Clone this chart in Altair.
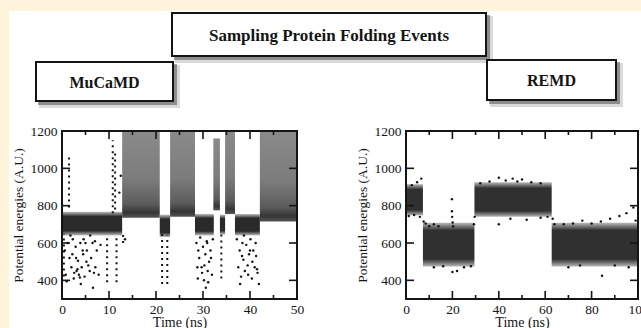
import altair as alt
import pandas as pd

# ---------------- text ----------------
HEADER = "Sampling  Protein Folding Events"
LEFT_NAME = "MuCaMD"
RIGHT_NAME = "REMD"
X_TITLE = "Time (ns)"
Y_TITLE = "Potential energies (A.U.)"

# ---------------- axes ----------------
energy_domain = [300, 1200]
energy_labels = [400, 600, 800, 1000, 1200]
energy_ticks = [400, 600, 800, 1000]

left_domain = [0, 50]
left_major = [0, 10, 20, 30, 40, 50]
left_minor = [5, 15, 25, 35, 45]
right_domain = [0, 100]
right_major = [0, 20, 40, 60, 80, 100]
right_minor = [10, 30, 50, 70, 90]

# ---------------- MuCaMD (left) ----------------
mu_basin_start = [0.0, 20.8, 28.3, 33.6, 36.8]
mu_basin_end = [12.8, 23.0, 32.3, 34.7, 42.1]
mu_basin_low = [640, 632, 640, 645, 640]
mu_basin_high = [768, 752, 756, 752, 756]

mu_high_start = [12.8, 23.0, 32.2, 34.7, 42.1]
mu_high_end = [20.8, 28.3, 33.6, 36.8, 50.0]
mu_high_low = [735, 740, 775, 755, 715]
mu_high_top = [1200, 1200, 1160, 1200, 1200]

mu_streak_t = [0.4, 1.5, 9.6, 10.8, 11.3, 11.6, 13.0, 21.3, 22.4, 33.9]
mu_streak_low = [420, 790, 390, 760, 780, 390, 600, 380, 380, 410]
mu_streak_high = [650, 1080, 640, 1150, 1100, 640, 660, 650, 640, 650]

mu_dot_t = [0.6, 0.8, 1.2, 1.6, 2.0, 2.3, 2.6, 2.9, 3.1, 3.4, 3.6, 3.9, 4.2, 4.5,
            4.8, 5.0, 5.3, 5.6, 5.9, 6.2, 6.5, 6.8, 7.1, 7.4, 7.8, 8.2, 1.0, 1.8,
            2.5, 3.3, 4.0, 4.6, 5.2, 6.0, 6.6, 7.0, 3.0, 3.8, 4.4, 2.2,
            28.6, 28.9, 29.2, 29.4, 29.7, 30.0, 30.2, 30.5, 30.8, 31.0, 31.3,
            31.6, 31.9, 32.1, 29.0, 30.3, 31.1, 29.8, 30.9, 31.7, 28.8, 30.6,
            37.2, 37.5, 37.8, 38.1, 38.4, 38.6, 38.9, 39.2, 39.5, 39.8, 40.1,
            40.4, 40.7, 41.0, 41.3, 41.6, 41.9, 37.9, 38.7, 39.6, 40.5, 41.2,
            38.3, 41.5, 40.0, 12.2, 12.5, 13.4]
mu_dot_e = [560, 430, 600, 520, 470, 620, 440, 580, 450, 505, 430, 600, 470, 540,
            420, 600, 560, 480, 450, 520, 600, 440, 470, 560, 430, 590, 395, 640,
            410, 460, 380, 620, 500, 640, 360, 610, 520, 415, 560, 540,
            600, 410, 520, 630, 470, 580, 400, 540, 610, 450, 500,
            560, 430, 620, 560, 480, 390, 440, 600, 520, 470, 360,
            620, 470, 560, 420, 600, 510, 450, 590, 480, 540, 620,
            410, 560, 470, 530, 440, 380, 380, 640, 430, 500, 600,
            530, 460, 560, 870, 960, 620]

# ---------------- REMD (right) ----------------
re_start = [0.0, 7.3, 29.5, 62.8]
re_end = [7.3, 29.5, 62.8, 100.0]
re_low = [748, 474, 740, 474]
re_high = [915, 708, 925, 708]

re_dot_t = [1.2, 2.5, 4.8, 6.6, 3.5, 6.0, 7.6, 8.5, 10.0, 12.0, 14.0,
            19.8, 19.8, 19.9, 20.1, 20.3, 12.0, 16.0, 20.0, 22.0, 25.0, 28.0,
            29.3, 29.6, 32.0, 36.0, 40.0, 43.0, 46.0, 48.0, 50.0, 54.0, 58.0,
            40.0, 45.0, 52.0, 58.0, 61.0, 63.2, 64.0, 68.0, 72.0, 76.0, 80.0,
            84.0, 88.0, 92.0, 95.0, 98.0, 99.0, 70.0, 75.0, 84.5, 90.0, 96.0]
re_dot_e = [745, 910, 925, 945, 750, 740, 715, 705, 690, 700, 690,
            835, 770, 740, 710, 690, 470, 475, 445, 450, 470, 475,
            700, 740, 920, 930, 950, 935, 945, 930, 940, 925, 920,
            700, 730, 725, 735, 740, 730, 700, 700, 705, 720, 705,
            715, 730, 745, 760, 790, 720, 470, 480, 425, 480, 470]

# ---------------- layout & style ----------------
W, H = 641, 328
PLOT_TOP, PLOT_BOTTOM = 131, 299
LEFT_X = (62, 297)
RIGHT_X = (406, 638)
MAJOR_LEN, MINOR_LEN = 8, 4
FONT = "Liberation Serif"
INK = "#141414"
CREAM = "#FEF4DB"

ONE = pd.DataFrame({"k": [0]})


def vgrad(stops):
    return alt.LinearGradient(
        gradient="linear", x1=0, x2=0, y1=1, y2=0,
        stops=[alt.GradientStop(offset=o, color=c) for o, c in stops])


DENSE_BAND = vgrad([(0, "#c4c4c4"), (0.2, "#2a2a2a"), (0.8, "#2a2a2a"), (1, "#c4c4c4")])
REMD_BAND = vgrad([(0, "#b8b8b8"), (0.17, "#303030"), (0.83, "#303030"), (1, "#b8b8b8")])
HIGH_BLOCK = vgrad([(0, "#555555"), (0.06, "#353535"), (0.16, "#5c5c5c"),
                    (0.45, "#7c7c7c"), (1, "#8a8a8a")])


def scales(domain, xrange):
    xs = alt.Scale(domain=domain, range=list(xrange), nice=False, zero=False)
    ys = alt.Scale(domain=energy_domain, range=[PLOT_BOTTOM, PLOT_TOP], nice=False, zero=False)
    return xs, ys


def band_layer(start, end, low, high, color, xs, ys):
    df = pd.DataFrame({"t0": start, "t1": end, "lo": low, "hi": high})
    return alt.Chart(df).mark_rect(color=color).encode(
        x=alt.X("t0:Q", scale=xs, axis=None), x2="t1:Q",
        y=alt.Y("lo:Q", scale=ys, axis=None), y2="hi:Q")


def dots_layer(t, e, xs, ys):
    df = pd.DataFrame({"t": t, "e": e})
    return alt.Chart(df).mark_circle(size=6, color=INK, opacity=1).encode(
        x=alt.X("t:Q", scale=xs, axis=None), y=alt.Y("e:Q", scale=ys, axis=None))


def streak_layer(t, low, high, xs, ys):
    df = pd.DataFrame({"t": t, "lo": low, "hi": high})
    return alt.Chart(df).mark_rule(color=INK, strokeWidth=2, strokeDash=[2, 4]).encode(
        x=alt.X("t:Q", scale=xs, axis=None),
        y=alt.Y("lo:Q", scale=ys, axis=None), y2="hi:Q")


def xtick_layer(values, length, xs, bottom):
    df = pd.DataFrame({"t": values})
    y0 = PLOT_BOTTOM if bottom else PLOT_TOP
    y1 = y0 - length if bottom else y0 + length
    return alt.Chart(df).mark_rule(color=INK, strokeWidth=1.6).encode(
        x=alt.X("t:Q", scale=xs, axis=None), y=alt.value(y0), y2=alt.value(y1))


def ytick_layer(values, x0, x1, ys):
    df = pd.DataFrame({"e": values})
    return alt.Chart(df).mark_rule(color=INK, strokeWidth=1.6).encode(
        y=alt.Y("e:Q", scale=ys, axis=None), x=alt.value(x0), x2=alt.value(x1))


def frame_layer(domain, xrange, majors, xs, ys):
    x_axis = alt.Axis(
        title=X_TITLE, orient="bottom", offset=PLOT_BOTTOM - H, values=majors,
        ticks=False, domain=False, grid=False, labelFlush=False, labelOverlap=False,
        labelPadding=3, titlePadding=0, format="d", zindex=2,
        labelFont=FONT, labelFontSize=13.5, labelColor=INK,
        titleFont=FONT, titleFontSize=14, titleFontWeight="normal", titleColor=INK)
    y_axis = alt.Axis(
        title=Y_TITLE, orient="left", offset=-xrange[0], values=energy_labels,
        ticks=False, domain=False, grid=False, labelOverlap=False,
        labelPadding=5, titlePadding=5, format="d", zindex=2,
        labelFont=FONT, labelFontSize=13.5, labelColor=INK,
        titleFont=FONT, titleFontSize=13.5, titleFontWeight="normal", titleColor=INK)
    frame_df = pd.DataFrame({"x0": [domain[0]], "x1": [domain[1]],
                             "y0": [energy_domain[0]], "y1": [energy_domain[1]]})
    return alt.Chart(frame_df).mark_rect(
        fill="white", fillOpacity=0, stroke=INK, strokeWidth=2).encode(
        x=alt.X("x0:Q", scale=xs, axis=x_axis), x2="x1:Q",
        y=alt.Y("y0:Q", scale=ys, axis=y_axis), y2="y1:Q")


def panel_layers(domain, xrange, majors, minors, bands, streaks, dots):
    xs, ys = scales(domain, xrange)
    layers = [band_layer(s, e, lo, hi, c, xs, ys) for (s, e, lo, hi, c) in bands]
    if streaks is not None:
        layers.append(streak_layer(*streaks, xs, ys))
    layers.append(dots_layer(*dots, xs, ys))
    layers.append(frame_layer(domain, xrange, majors, xs, ys))
    layers += [
        xtick_layer(majors, MAJOR_LEN, xs, True),
        xtick_layer(minors, MINOR_LEN, xs, True),
        xtick_layer(majors, MAJOR_LEN, xs, False),
        xtick_layer(minors, MINOR_LEN, xs, False),
        ytick_layer(energy_ticks, xrange[0], xrange[0] + MAJOR_LEN, ys),
        ytick_layer(energy_ticks, xrange[1], xrange[1] - MAJOR_LEN, ys),
    ]
    return layers


left_layers = panel_layers(
    left_domain, LEFT_X, left_major, left_minor,
    bands=[
        (mu_high_start, mu_high_end, mu_high_low, mu_high_top, HIGH_BLOCK),
        (mu_basin_start, mu_basin_end, mu_basin_low, mu_basin_high, DENSE_BAND),
    ],
    streaks=(mu_streak_t, mu_streak_low, mu_streak_high),
    dots=(mu_dot_t, mu_dot_e),
)

right_layers = panel_layers(
    right_domain, RIGHT_X, right_major, right_minor,
    bands=[(re_start, re_end, re_low, re_high, REMD_BAND)],
    streaks=None,
    dots=(re_dot_t, re_dot_e),
)

# ---------------- decorations ----------------
panel_bg = alt.Chart(ONE).mark_rect(color="white").encode(
    x=alt.value(9), x2=alt.value(W), y=alt.value(11), y2=alt.value(H))


def box(x0, y0, x1, y1, label, ty, size):
    lab = pd.DataFrame({"label": [label]})
    soft = alt.Chart(ONE).mark_rect(color="#000000", opacity=0.15).encode(
        x=alt.value(x0 + 3), x2=alt.value(x1 + 7), y=alt.value(y0 + 3), y2=alt.value(y1 + 7))
    hard = alt.Chart(ONE).mark_rect(color="#000000", opacity=0.35).encode(
        x=alt.value(x0 + 2), x2=alt.value(x1 + 4), y=alt.value(y0 + 2), y2=alt.value(y1 + 4))
    face = alt.Chart(ONE).mark_rect(fill="white", stroke=INK, strokeWidth=2).encode(
        x=alt.value(x0), x2=alt.value(x1), y=alt.value(y0), y2=alt.value(y1))
    text = alt.Chart(lab).mark_text(
        font=FONT, fontSize=size, fontWeight="bold", color=INK,
        align="center", baseline="middle").encode(
        x=alt.value((x0 + x1) / 2), y=alt.value(ty), text="label:N")
    return [soft, hard, face, text]


decor = [panel_bg]
decor += box(172, 13, 486, 56, HEADER, 35.5, 17)
decor += box(36, 62, 173, 101, LEFT_NAME, 82.5, 16)
decor += box(487, 60, 616, 100, RIGHT_NAME, 81, 16)

chart = alt.layer(*decor, *left_layers, *right_layers).resolve_scale(
    x="independent", y="independent"
).properties(
    width=W, height=H, autosize=alt.AutoSizeParams(type="none"), padding=0
).configure(background=CREAM).configure_view(stroke=None)

chart.save("out.html", embed_options={"renderer": "svg", "actions": False})
